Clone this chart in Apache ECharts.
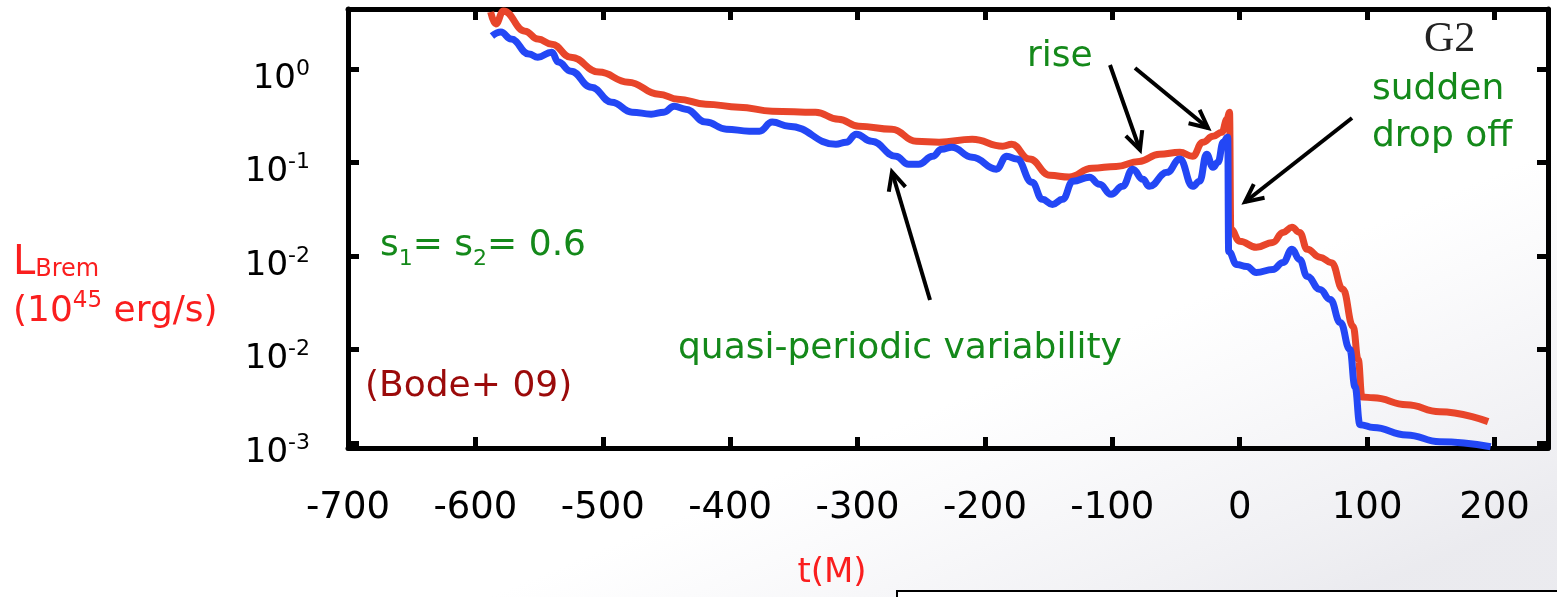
<!DOCTYPE html>
<html>
<head>
<meta charset="utf-8">
<title>G2 L_Brem</title>
<script src="https://cdn.jsdelivr.net/npm/echarts@6.0.0/dist/echarts.min.js"></script>
<style>
  html, body { margin: 0; padding: 0; background: #fff; }
  #chart { width: 1557px; height: 597px; }
</style>
</head>
<body>
<div id="chart"></div>
<script>
// t(M) and L (10^45 erg/s)
var redT = [-588, -584, -578, -561, -551, -540, -525, -503, -480, -456, -441, -419, -393, -367, -333, -315, -299, -273, -254, -236,
  -210, -186, -179, -165, -149, -134, -116, -97, -79, -63, -47, -37, -29, -21, -14, -10, -8, -7, 0, 13,
  26, 34, 41, 47, 53, 63, 72, 81, 89, 93, 96, 105, 131, 157, 195];
var redL = [4.08, 3.04, 4.19, 2.55, 2.10, 1.85, 1.34, 0.929, 0.726, 0.540, 0.477, 0.422, 0.392, 0.355, 0.346, 0.291, 0.245, 0.228, 0.169, 0.165,
  0.178, 0.150, 0.157, 0.109, 0.073, 0.070, 0.087, 0.091, 0.103, 0.123, 0.129, 0.117, 0.165, 0.191, 0.211, 0.291, 0.346, 0.0193, 0.0144, 0.0124,
  0.0140, 0.0179, 0.0203, 0.0179, 0.0118, 0.0097, 0.0085, 0.0044, 0.00176, 0.00078, 0.00031, 0.000305, 0.000257, 0.000216, 0.000169];

var blueT = [-587, -580, -572, -558, -551, -540, -535, -525, -509, -493, -477, -462, -452, -444, -435, -419, -403, -385, -377, -367,
  -354, -317, -309, -301, -289, -270, -260, -252, -241, -234, -226, -210, -191, -183, -175, -163, -155, -147, -139, -131,
  -118, -110, -101, -92, -84, -76, -71, -57, -47, -37, -31.5, -26, -21, -17, -13, -9.4, -8.7, -2.4, 5.5, 13,
  26, 34, 41, 47, 53, 63, 71, 79, 86.5, 90.5, 94.4, 105, 131, 157, 197];
var blueL = [2.26, 2.49, 2.10, 1.45, 1.34, 1.52, 1.19, 0.952, 0.641, 0.443, 0.346, 0.330, 0.346, 0.401, 0.373, 0.271, 0.228, 0.217, 0.217, 0.271,
  0.245, 0.157, 0.165, 0.201, 0.169, 0.117, 0.096, 0.096, 0.117, 0.139, 0.146, 0.114, 0.085, 0.117, 0.109, 0.0615, 0.0404, 0.0357, 0.0404, 0.0631,
  0.0695, 0.0585, 0.0457, 0.0557, 0.0848, 0.0662, 0.0557, 0.0787, 0.109, 0.0557, 0.0631, 0.123, 0.0891, 0.101, 0.165, 0.187, 0.0112, 0.00813, 0.00774, 0.00667,
  0.00718, 0.00853, 0.0118, 0.0092, 0.00604, 0.00438, 0.00343, 0.00194, 0.000998, 0.0004, 0.000157, 0.000146, 0.000122, 0.000103, 0.000091];

// y tick labels as written on the slide (top to bottom)
var yTickExps = ['0', '-1', '-2', '-2', '-3'];

var xMin = -700, xMax = 242;
var yMin = 0.0000883, yMax = 4.4;

var FONT = 'DejaVu Sans';
var GREEN = '#14891a';
var RED = '#fa1e1e';

function pairs(xs, ys) {
  return xs.map(function (x, i) { return [x, ys[i]]; });
}

function arrow(x1, y1, x2, y2) {
  var a = Math.atan2(y2 - y1, x2 - x1), len = 20, w = 0.45;
  var p1 = [x2 - len * Math.cos(a - w), y2 - len * Math.sin(a - w)];
  var p2 = [x2 - len * Math.cos(a + w), y2 - len * Math.sin(a + w)];
  return [
    { type: 'line', z: 10, shape: { x1: x1, y1: y1, x2: x2, y2: y2 }, style: { stroke: '#000', lineWidth: 4 } },
    { type: 'polyline', z: 10, shape: { points: [p1, [x2, y2], p2] }, style: { stroke: '#000', lineWidth: 4, fill: null } }
  ];
}

function label(text, x, y, size, color, extra) {
  var st = { text: text, x: x, y: y, fontSize: size, fontFamily: FONT, fill: color, verticalAlign: 'middle', align: 'left' };
  for (var k in extra) st[k] = extra[k];
  return { type: 'text', z: 10, style: st };
}

var frameLine = { onZero: false, lineStyle: { color: '#000', width: 5 } };
var frameTick = { inside: true, length: 11, lineStyle: { color: '#000', width: 5 } };

var chart = echarts.init(document.getElementById('chart'));

var graphics = [
  // faint swoosh of the slide background, fading in from its upper edge
  { type: 'polygon', z: -10, silent: true,
    shape: { points: [[480, 597], [860, 440], [1230, 280], [1557, 150], [1557, 597]] },
    style: { fill: new echarts.graphic.LinearGradient(1000, 381, 1130, 690, [
      { offset: 0, color: 'rgba(236,236,241,0)' },
      { offset: 0.5, color: 'rgba(234,234,239,0.45)' },
      { offset: 1, color: 'rgba(226,226,232,0.7)' }], true) } },
  { type: 'rect', z: 5, shape: { x: 897, y: 591, width: 700, height: 20 }, style: { fill: '#fff', stroke: '#000', lineWidth: 2 } },

  label('{a|L}{b|Brem}', 13, 262, 40, RED, { rich: {
    a: { fontSize: 40, fontFamily: FONT, fill: RED, lineHeight: 44, verticalAlign: 'bottom' },
    b: { fontSize: 24, fontFamily: FONT, fill: RED, lineHeight: 44, verticalAlign: 'bottom', padding: [0, 0, 2, 0] } } }),
  label('{a|(10}{b|45}{a| erg/s)}', 13, 310, 36, RED, { rich: {
    a: { fontSize: 36, fontFamily: FONT, fill: RED, lineHeight: 40, verticalAlign: 'bottom' },
    b: { fontSize: 23, fontFamily: FONT, fill: RED, lineHeight: 40, verticalAlign: 'top' } } }),
  label('t(M)', 832, 573, 34, RED, { align: 'center' }),

  label('rise', 1027, 57, 36, GREEN),
  label('sudden', 1372, 90, 36, GREEN),
  label('drop off', 1372, 137, 36, GREEN),
  label('{a|s}{b|1}{a|= s}{b|2}{a|= 0.6}', 380, 249, 36, GREEN, { rich: {
    a: { fontSize: 36, fontFamily: FONT, fill: GREEN, lineHeight: 42, verticalAlign: 'top' },
    b: { fontSize: 22, fontFamily: FONT, fill: GREEN, lineHeight: 42, verticalAlign: 'bottom' } } }),
  label('quasi-periodic variability', 678, 349, 36, GREEN),
  label('(Bode+ 09)', 365, 387, 36, '#9b0a0a'),
  label('G2', 1424, 40, 42, '#222', { fontFamily: 'Liberation Serif' })
];
graphics = graphics
  .concat(arrow(930, 300, 892, 172))
  .concat(arrow(1110, 65, 1140, 150))
  .concat(arrow(1135, 68, 1208, 128))
  .concat(arrow(1352, 118, 1245, 202));

chart.setOption({
  backgroundColor: '#fff',
  animation: false,
  grid: { left: 348, right: 9, top: 9, bottom: 149 },
  xAxis: [{
    type: 'value', position: 'bottom', min: xMin, max: xMax, interval: 100,
    axisLine: frameLine, axisTick: frameTick, splitLine: { show: false },
    axisLabel: {
      margin: 42, fontSize: 37, fontFamily: FONT, color: '#000',
      formatter: function (v) { return v % 100 === 0 ? String(v) : ''; }
    }
  }, {
    type: 'value', position: 'top', min: xMin, max: xMax, interval: 100,
    axisLine: frameLine, axisTick: frameTick, splitLine: { show: false }, axisLabel: { show: false }
  }],
  yAxis: [{
    type: 'log', logBase: 10, position: 'left', min: yMin, max: yMax,
    axisLine: frameLine, axisTick: frameTick, splitLine: { show: false },
    axisLabel: {
      margin: 38, padding: [16, 0, 0, 0],
      formatter: function (v) {
        var e = Math.log10(v), r = Math.round(e);
        if (Math.abs(e - r) > 1e-6 || -r < 0 || -r >= yTickExps.length) return '';
        return '{b|10}{e|' + yTickExps[-r] + '}';
      },
      rich: {
        b: { fontSize: 34, fontFamily: FONT, color: '#000', lineHeight: 38, verticalAlign: 'bottom' },
        e: { fontSize: 22, fontFamily: FONT, color: '#000', lineHeight: 38, verticalAlign: 'top' }
      }
    }
  }, {
    type: 'log', logBase: 10, position: 'right', min: yMin, max: yMax,
    axisLine: frameLine, axisTick: frameTick, splitLine: { show: false }, axisLabel: { show: false }
  }],
  series: [{
    type: 'line', name: 'red', data: pairs(redT, redL),
    showSymbol: false, smooth: 0.45, smoothMonotone: 'x',
    lineStyle: { color: '#e8452a', width: 7 }
  }, {
    type: 'line', name: 'blue', data: pairs(blueT, blueL),
    showSymbol: false, smooth: 0.45, smoothMonotone: 'x',
    lineStyle: { color: '#2347f5', width: 7 }
  }],
  graphic: graphics
});
</script>
</body>
</html>
